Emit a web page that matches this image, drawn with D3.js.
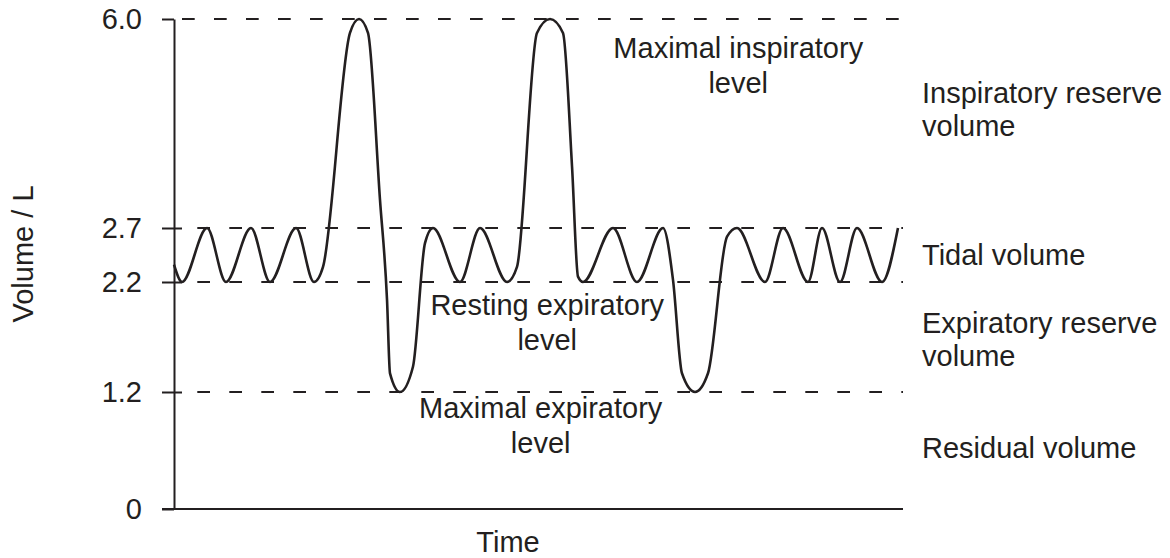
<!DOCTYPE html>
<html>
<head>
<meta charset="utf-8">
<script src="https://cdn.jsdelivr.net/npm/d3@7"></script>
<style>
  html, body { margin: 0; padding: 0; background: #fff; }
  svg { display: block; }
  text { font-family: "Liberation Sans", Arial, sans-serif; fill: #231f20; }
</style>
</head>
<body>
<svg id="chart" width="1170" height="558"></svg>
<script>
// ---- data ----
const time = [0, 1.10, 4.53, 7.13, 10.56, 13.17, 16.74, 19.20, 20.44, 24.14, 25.38, 26.61, 28.26, 29.22,
  29.63, 31.00, 32.78, 34.43, 35.53, 39.23, 41.98, 45.68, 47.05, 49.79, 51.58, 53.36, 54.60, 55.42,
  56.10, 60.22, 63.51, 67.08, 68.45, 69.68, 71.47, 73.25, 75.86, 77.23, 81.07, 83.54, 86.97, 88.89,
  91.36, 93.69, 97.12, 99.31];
const volume = [2.36, 2.2, 2.7, 2.2, 2.7, 2.2, 2.7, 2.2, 2.34, 5.78, 6.0, 5.78, 3.14, 2.04,
  1.37, 1.2, 1.43, 2.56, 2.7, 2.2, 2.7, 2.2, 2.34, 5.78, 6.0, 5.78, 3.67, 2.25,
  2.2, 2.7, 2.2, 2.7, 2.22, 1.37, 1.2, 1.37, 2.62, 2.7, 2.2, 2.7, 2.2, 2.7,
  2.2, 2.7, 2.2, 2.7];

const yTicks = [0, 1.2, 2.2, 2.7, 6.0];
const yTickLabels = ["0", "1.2", "2.2", "2.7", "6.0"];
const levels = [6.0, 2.7, 2.2, 1.2];

const levelLabels = [
  { lines: ["Maximal inspiratory", "level"], t: 77.4, v: 5.38 },
  { lines: ["Resting expiratory", "level"], t: 51.2, v: 1.9 },
  { lines: ["Maximal expiratory", "level"], t: 50.3, v: 0.933 }
];
const volumeLabels = [
  { lines: ["Inspiratory reserve", "volume"] },
  { lines: ["Tidal volume"] },
  { lines: ["Expiratory reserve", "volume"] },
  { lines: ["Residual volume"] }
];

// ---- drawing ----
const svg = d3.select("#chart");
const x = d3.scaleLinear().domain([0, 100]).range([174, 903]);
// schematic (piecewise) volume axis
const y = d3.scaleLinear().domain([0, 1.2, 2.2, 2.7, 6.0]).range([509, 392, 282, 228, 19]);

const ink = "#231f20";
const fs = 29;

// dashed reference levels
svg.append("g").selectAll("line").data(levels).join("line")
  .attr("x1", d => d === 6.0 ? 182 : 197.3)
  .attr("x2", x(100))
  .attr("y1", d => y(d)).attr("y2", d => y(d))
  .attr("stroke", ink).attr("stroke-width", 2)
  .attr("stroke-dasharray", "12.7 19.3");

// baseline (time axis)
svg.append("line")
  .attr("x1", 162).attr("x2", x(100))
  .attr("y1", y(0)).attr("y2", y(0))
  .attr("stroke", ink).attr("stroke-width", 2.2);

// y axis
const yAxis = svg.append("g")
  .attr("transform", `translate(${x(0)},0)`)
  .call(d3.axisLeft(y).tickValues(yTicks)
    .tickFormat((d, i) => yTickLabels[i])
    .tickSize(12).tickSizeOuter(0).tickPadding(20));
yAxis.select(".domain").attr("stroke", ink).attr("stroke-width", 2);
yAxis.selectAll(".tick line").attr("stroke", ink).attr("stroke-width", 2)
  .attr("x2", d => (d > 0 && d < 6) ? 8 : 0).attr("x1", -12);
yAxis.selectAll(".tick text")
  .style("font-family", '"Liberation Sans", Arial, sans-serif')
  .style("font-size", fs + "px").attr("fill", ink).attr("dy", "0.33em");

// breathing curve
const pts = time.map((t, i) => [t, volume[i]]);
const line = d3.line().x(d => x(d[0])).y(d => y(d[1])).curve(d3.curveMonotoneX);
svg.append("path").datum(pts)
  .attr("d", line)
  .attr("fill", "none").attr("stroke", ink).attr("stroke-width", 2.6)
  .attr("stroke-linejoin", "round");

// level labels (centred)
const lh = 35;
levelLabels.forEach(l => {
  const tx = svg.append("text").attr("text-anchor", "middle")
    .style("font-size", fs + "px")
    .attr("x", x(l.t)).attr("y", y(l.v));
  l.lines.forEach((s, i) => tx.append("tspan").attr("x", x(l.t)).attr("dy", i === 0 ? 0 : lh).text(s));
});

// volume labels (right)
const vl = [103, 265, 333, 458];
volumeLabels.forEach((l, k) => {
  const tx = svg.append("text").attr("text-anchor", "start")
    .style("font-size", fs + "px")
    .attr("x", 922).attr("y", vl[k]);
  l.lines.forEach((s, i) => tx.append("tspan").attr("x", 922).attr("dy", i === 0 ? 0 : 33).text(s));
});

// axis titles
svg.append("text").attr("text-anchor", "middle").style("font-size", fs + "px")
  .attr("x", 508).attr("y", 552).text("Time");
svg.append("text").attr("text-anchor", "middle").style("font-size", fs + "px")
  .attr("transform", "translate(33,254) rotate(-90)").text("Volume / L");
</script>
</body>
</html>
